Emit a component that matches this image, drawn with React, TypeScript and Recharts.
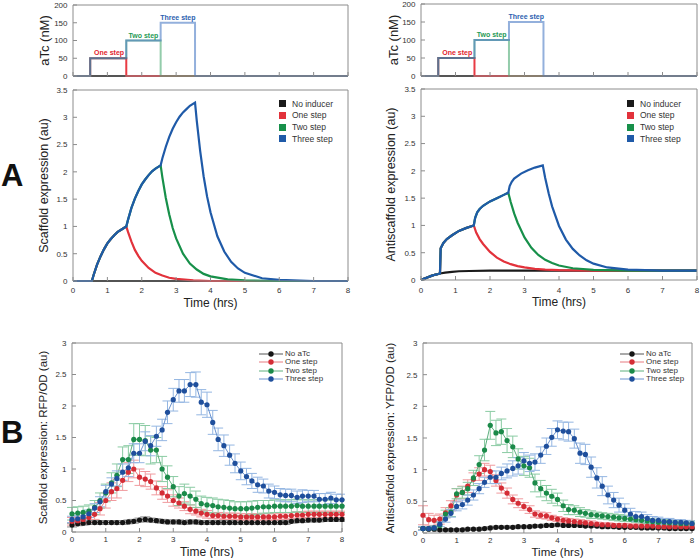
import React from 'react';
import { LineChart, Line, XAxis, YAxis, ErrorBar, Legend, ReferenceDot } from 'recharts';

const FONT = '"Liberation Sans", Arial, Helvetica, sans-serif';
const AXIS = '#8c8c8c';
const TXT = '#333333';
const TICK = { fontSize: 8, fill: TXT, fontFamily: FONT };
const X_TICKS = [0, 1, 2, 3, 4, 5, 6, 7, 8];

// ---------- Panel A (top): aTc input protocols, nM ----------
const atcNoneT = [0, 8];
const atcNoneV = [0, 0];
const atcOneT = [0, 0.5, 1.55, 8];
const atcOneV = [0, 50, 0, 0];
const atcTwoT = [0, 0.5, 1.55, 2.55, 8];
const atcTwoV = [0, 50, 100, 0, 0];
const atcThreeT = [0, 0.5, 1.55, 2.55, 3.55, 8];
const atcThreeV = [0, 50, 100, 150, 0, 0];
const atcTicks = [0, 50, 100, 150, 200];
const stepLabelText = ['One step', 'Two step', 'Three step'];
const stepLabelX = [1.05, 2.05, 3.05];
const stepLabelY = [65, 115, 165];
const stepLabelColor = ['#e2232f', '#1f9a55', '#2d5fb0'];

// ---------- Panel A (middle left): scaffold model ----------
const mlNoneT = [0, 8];
const mlNoneV = [0, 0];
const mlOneT = [0, 0.55, 0.6, 0.7, 0.8, 0.9, 1.0, 1.1, 1.2, 1.3, 1.4, 1.55, 1.6, 1.7, 1.8, 1.9, 2.0, 2.2, 2.4, 2.6, 2.8, 3.0, 3.5, 4, 8];
const mlOneV = [0, 0, 0.11, 0.3, 0.45, 0.58, 0.69, 0.77, 0.84, 0.9, 0.94, 1.0, 0.9, 0.72, 0.57, 0.46, 0.37, 0.24, 0.15, 0.1, 0.06, 0.04, 0.01, 0, 0];
const mlTwoT = [0, 0.55, 0.6, 0.7, 0.8, 0.9, 1.0, 1.1, 1.2, 1.3, 1.4, 1.55, 1.6, 1.7, 1.8, 1.9, 2.0, 2.1, 2.2, 2.3, 2.4, 2.55, 2.6, 2.7, 2.8, 2.9, 3.0, 3.2, 3.4, 3.6, 3.8, 4.0, 4.5, 5, 6, 8];
const mlTwoV = [0, 0, 0.11, 0.3, 0.45, 0.58, 0.69, 0.77, 0.84, 0.9, 0.94, 1.0, 1.12, 1.34, 1.51, 1.65, 1.77, 1.86, 1.94, 2.01, 2.06, 2.12, 1.9, 1.52, 1.22, 0.97, 0.78, 0.5, 0.32, 0.21, 0.13, 0.085, 0.03, 0.01, 0, 0];
const mlThreeT = [0, 0.55, 0.6, 0.7, 0.8, 0.9, 1.0, 1.1, 1.2, 1.3, 1.4, 1.55, 1.6, 1.7, 1.8, 1.9, 2.0, 2.1, 2.2, 2.3, 2.4, 2.55, 2.6, 2.7, 2.8, 2.9, 3.0, 3.1, 3.2, 3.3, 3.4, 3.55, 3.6, 3.7, 3.8, 3.9, 4.0, 4.2, 4.4, 4.6, 4.8, 5.0, 5.5, 6.0, 7, 8];
const mlThreeV = [0, 0, 0.11, 0.3, 0.45, 0.58, 0.69, 0.77, 0.84, 0.9, 0.94, 1.0, 1.12, 1.34, 1.51, 1.65, 1.77, 1.86, 1.94, 2.01, 2.06, 2.12, 2.25, 2.46, 2.64, 2.79, 2.91, 3.01, 3.09, 3.15, 3.21, 3.27, 2.94, 2.38, 1.92, 1.55, 1.26, 0.82, 0.54, 0.35, 0.23, 0.15, 0.05, 0.02, 0, 0];

// ---------- Panel A (middle right): antiscaffold model ----------
const mrNoneT = [0, 0.1, 0.2, 0.3, 0.4, 0.5, 0.55, 0.7, 0.9, 1.1, 1.4, 2, 8];
const mrNoneV = [0, 0.025, 0.05, 0.075, 0.095, 0.11, 0.12, 0.135, 0.15, 0.16, 0.165, 0.17, 0.17];
const mrOneT = [0, 0.1, 0.2, 0.3, 0.4, 0.5, 0.55, 0.57, 0.65, 0.75, 0.9, 1.1, 1.3, 1.53, 1.6, 1.7, 1.8, 2.0, 2.2, 2.4, 2.6, 2.8, 3.0, 3.3, 3.6, 4.0, 5, 8];
const mrOneV = [0, 0.025, 0.05, 0.075, 0.095, 0.11, 0.12, 0.58, 0.68, 0.75, 0.82, 0.9, 0.95, 1.0, 0.87, 0.75, 0.66, 0.515, 0.41, 0.34, 0.29, 0.255, 0.23, 0.205, 0.19, 0.18, 0.17, 0.17];
const mrTwoT = [0, 0.1, 0.2, 0.3, 0.4, 0.5, 0.55, 0.57, 0.65, 0.75, 0.9, 1.1, 1.3, 1.53, 1.57, 1.63, 1.7, 1.8, 2.0, 2.2, 2.4, 2.53, 2.6, 2.7, 2.8, 3.0, 3.2, 3.4, 3.6, 3.8, 4.0, 4.4, 5.0, 6, 8];
const mrTwoV = [0, 0.025, 0.05, 0.075, 0.095, 0.11, 0.12, 0.58, 0.68, 0.75, 0.82, 0.9, 0.95, 1.0, 1.14, 1.24, 1.3, 1.36, 1.44, 1.5, 1.56, 1.6, 1.43, 1.22, 1.05, 0.78, 0.59, 0.46, 0.37, 0.31, 0.265, 0.215, 0.185, 0.17, 0.17];
const mrThreeT = [0, 0.1, 0.2, 0.3, 0.4, 0.5, 0.55, 0.57, 0.65, 0.75, 0.9, 1.1, 1.3, 1.53, 1.57, 1.63, 1.7, 1.8, 2.0, 2.2, 2.4, 2.53, 2.57, 2.63, 2.7, 2.9, 3.1, 3.3, 3.53, 3.6, 3.7, 3.8, 4.0, 4.2, 4.4, 4.6, 4.8, 5.0, 5.4, 6.0, 7, 8];
const mrThreeV = [0, 0.025, 0.05, 0.075, 0.095, 0.11, 0.12, 0.58, 0.68, 0.75, 0.82, 0.9, 0.95, 1.0, 1.14, 1.24, 1.3, 1.36, 1.44, 1.5, 1.56, 1.6, 1.72, 1.8, 1.86, 1.95, 2.01, 2.06, 2.1, 1.87, 1.59, 1.35, 0.99, 0.74, 0.57, 0.45, 0.36, 0.3, 0.23, 0.19, 0.17, 0.17];
const modelTicks = [0, 0.5, 1, 1.5, 2, 2.5, 3, 3.5];
const modelNames = ['No inducer', 'One step', 'Two step', 'Three step'];
const modelColors = ['#1a1a1a', '#e2323b', '#17904a', '#1f5aa8'];

// ---------- Panel B: measurements (10 min sampling) ----------
const bTime = [0, 0.17, 0.33, 0.5, 0.67, 0.83, 1, 1.17, 1.33, 1.5, 1.67, 1.83, 2, 2.17, 2.33, 2.5, 2.67, 2.83, 3, 3.17, 3.33, 3.5, 3.67, 3.83, 4, 4.17, 4.33, 4.5, 4.67, 4.83, 5, 5.17, 5.33, 5.5, 5.67, 5.83, 6, 6.17, 6.33, 6.5, 6.67, 6.83, 7, 7.17, 7.33, 7.5, 7.67, 7.83, 8];

const blNoneV = [0.11, 0.13, 0.14, 0.15, 0.15, 0.15, 0.15, 0.15, 0.15, 0.15, 0.16, 0.17, 0.19, 0.2, 0.19, 0.18, 0.17, 0.16, 0.16, 0.16, 0.15, 0.16, 0.16, 0.15, 0.15, 0.15, 0.15, 0.15, 0.15, 0.15, 0.15, 0.15, 0.15, 0.15, 0.15, 0.15, 0.15, 0.15, 0.15, 0.17, 0.18, 0.18, 0.19, 0.19, 0.19, 0.2, 0.2, 0.2, 0.2];
const blNoneE = [0.03, 0.03, 0.03, 0.03, 0.03, 0.03, 0.03, 0.03, 0.03, 0.03, 0.03, 0.03, 0.03, 0.04, 0.03, 0.03, 0.03, 0.03, 0.03, 0.03, 0.03, 0.03, 0.03, 0.03, 0.03, 0.03, 0.03, 0.03, 0.03, 0.03, 0.03, 0.03, 0.03, 0.03, 0.03, 0.03, 0.03, 0.03, 0.03, 0.03, 0.03, 0.03, 0.03, 0.03, 0.03, 0.03, 0.03, 0.03, 0.03];
const blOneV = [0.17, 0.18, 0.2, 0.23, 0.28, 0.37, 0.5, 0.64, 0.69, 0.82, 0.95, 1.0, 0.87, 0.84, 0.8, 0.7, 0.62, 0.57, 0.5, 0.46, 0.41, 0.36, 0.33, 0.3, 0.28, 0.26, 0.26, 0.25, 0.25, 0.25, 0.24, 0.24, 0.24, 0.24, 0.24, 0.24, 0.24, 0.25, 0.25, 0.26, 0.27, 0.27, 0.28, 0.28, 0.28, 0.28, 0.28, 0.28, 0.28];
const blOneE = [0.06, 0.06, 0.06, 0.07, 0.08, 0.1, 0.12, 0.14, 0.15, 0.16, 0.15, 0.14, 0.13, 0.12, 0.12, 0.11, 0.1, 0.1, 0.09, 0.08, 0.07, 0.07, 0.06, 0.06, 0.06, 0.05, 0.05, 0.05, 0.05, 0.05, 0.05, 0.05, 0.05, 0.05, 0.05, 0.05, 0.05, 0.05, 0.05, 0.05, 0.05, 0.05, 0.05, 0.05, 0.05, 0.05, 0.05, 0.05, 0.05];
const blTwoV = [0.29, 0.3, 0.31, 0.33, 0.39, 0.5, 0.62, 0.78, 0.9, 1.15, 1.15, 1.47, 1.47, 1.45, 1.3, 1.3, 1.0, 0.87, 0.72, 0.57, 0.61, 0.57, 0.52, 0.45, 0.43, 0.42, 0.4, 0.39, 0.38, 0.37, 0.37, 0.37, 0.38, 0.39, 0.4, 0.4, 0.41, 0.41, 0.41, 0.41, 0.42, 0.41, 0.41, 0.41, 0.41, 0.41, 0.41, 0.41, 0.41];
const blTwoE = [0.1, 0.1, 0.1, 0.1, 0.11, 0.12, 0.14, 0.16, 0.18, 0.2, 0.22, 0.25, 0.25, 0.24, 0.22, 0.2, 0.2, 0.18, 0.16, 0.15, 0.15, 0.14, 0.13, 0.12, 0.12, 0.12, 0.12, 0.12, 0.12, 0.11, 0.11, 0.11, 0.11, 0.11, 0.1, 0.1, 0.1, 0.1, 0.1, 0.1, 0.1, 0.1, 0.1, 0.1, 0.1, 0.1, 0.1, 0.1, 0.1];
const blThreeV = [0.2, 0.21, 0.24, 0.29, 0.38, 0.48, 0.64, 0.76, 0.85, 0.95, 1.02, 1.25, 1.25, 1.44, 1.37, 1.52, 1.62, 1.9, 2.1, 2.24, 2.24, 2.34, 2.34, 2.06, 2.02, 1.74, 1.47, 1.37, 1.22, 1.09, 0.97, 0.88, 0.81, 0.75, 0.73, 0.65, 0.63, 0.59, 0.58, 0.58, 0.55, 0.57, 0.57, 0.57, 0.52, 0.52, 0.54, 0.51, 0.51];
const blThreeE = [0.05, 0.05, 0.05, 0.06, 0.07, 0.08, 0.1, 0.1, 0.12, 0.13, 0.14, 0.15, 0.15, 0.15, 0.16, 0.16, 0.17, 0.18, 0.18, 0.18, 0.18, 0.19, 0.2, 0.2, 0.2, 0.19, 0.18, 0.17, 0.16, 0.15, 0.14, 0.13, 0.12, 0.12, 0.11, 0.11, 0.1, 0.1, 0.1, 0.1, 0.1, 0.1, 0.09, 0.09, 0.09, 0.09, 0.09, 0.09, 0.09];

const brNoneV = [0.07, 0.06, 0.06, 0.05, 0.05, 0.05, 0.05, 0.05, 0.06, 0.06, 0.06, 0.07, 0.08, 0.09, 0.09, 0.09, 0.09, 0.1, 0.1, 0.1, 0.11, 0.11, 0.12, 0.12, 0.13, 0.12, 0.12, 0.12, 0.12, 0.11, 0.11, 0.11, 0.1, 0.1, 0.1, 0.09, 0.09, 0.09, 0.09, 0.08, 0.08, 0.08, 0.08, 0.08, 0.07, 0.07, 0.07, 0.07, 0.07];
const brNoneE = [0.02, 0.02, 0.02, 0.02, 0.02, 0.02, 0.02, 0.02, 0.02, 0.02, 0.02, 0.02, 0.02, 0.02, 0.02, 0.02, 0.02, 0.02, 0.02, 0.02, 0.02, 0.02, 0.02, 0.02, 0.02, 0.02, 0.02, 0.02, 0.02, 0.02, 0.02, 0.02, 0.02, 0.02, 0.02, 0.02, 0.02, 0.02, 0.02, 0.02, 0.02, 0.02, 0.02, 0.02, 0.02, 0.02, 0.02, 0.02, 0.02];
const brOneV = [0.28, 0.21, 0.2, 0.22, 0.32, 0.43, 0.6, 0.64, 0.74, 0.85, 0.93, 1.0, 0.97, 0.83, 0.71, 0.63, 0.53, 0.47, 0.42, 0.37, 0.3, 0.28, 0.27, 0.24, 0.22, 0.2, 0.19, 0.18, 0.17, 0.16, 0.15, 0.14, 0.13, 0.13, 0.12, 0.12, 0.12, 0.11, 0.11, 0.11, 0.11, 0.11, 0.1, 0.1, 0.1, 0.1, 0.1, 0.1, 0.1];
const brOneE = [0.15, 0.1, 0.08, 0.08, 0.08, 0.08, 0.1, 0.1, 0.1, 0.1, 0.1, 0.1, 0.1, 0.09, 0.08, 0.08, 0.07, 0.07, 0.06, 0.06, 0.05, 0.05, 0.05, 0.04, 0.04, 0.04, 0.04, 0.04, 0.04, 0.04, 0.04, 0.03, 0.03, 0.03, 0.03, 0.03, 0.03, 0.03, 0.03, 0.03, 0.03, 0.03, 0.03, 0.03, 0.03, 0.03, 0.03, 0.03, 0.03];
const brTwoV = [0.07, 0.07, 0.08, 0.12, 0.3, 0.33, 0.62, 0.64, 0.7, 0.87, 1.08, 1.31, 1.7, 1.58, 1.6, 1.46, 1.36, 1.17, 1.06, 1.03, 0.79, 0.7, 0.63, 0.58, 0.53, 0.43, 0.37, 0.36, 0.33, 0.31, 0.29, 0.28, 0.27, 0.26, 0.25, 0.24, 0.23, 0.22, 0.21, 0.2, 0.19, 0.18, 0.17, 0.17, 0.16, 0.16, 0.15, 0.15, 0.15];
const brTwoE = [0.03, 0.03, 0.03, 0.05, 0.06, 0.07, 0.08, 0.09, 0.1, 0.12, 0.14, 0.17, 0.22, 0.2, 0.2, 0.19, 0.17, 0.16, 0.15, 0.15, 0.14, 0.13, 0.12, 0.11, 0.1, 0.09, 0.08, 0.07, 0.07, 0.06, 0.06, 0.05, 0.05, 0.05, 0.05, 0.05, 0.05, 0.04, 0.04, 0.04, 0.04, 0.04, 0.04, 0.04, 0.04, 0.04, 0.04, 0.04, 0.04];
const brThreeV = [0.07, 0.07, 0.08, 0.14, 0.22, 0.31, 0.42, 0.45, 0.52, 0.6, 0.7, 0.8, 0.88, 0.88, 0.94, 0.98, 1.02, 1.06, 1.14, 1.1, 1.12, 1.23, 1.37, 1.51, 1.63, 1.61, 1.6, 1.49, 1.26, 1.24, 1.04, 0.87, 0.74, 0.6, 0.52, 0.44, 0.36, 0.3, 0.26, 0.26, 0.23, 0.2, 0.2, 0.18, 0.18, 0.17, 0.17, 0.16, 0.15];
const brThreeE = [0.03, 0.03, 0.03, 0.04, 0.05, 0.06, 0.07, 0.07, 0.08, 0.08, 0.08, 0.08, 0.1, 0.1, 0.1, 0.11, 0.12, 0.13, 0.13, 0.13, 0.13, 0.13, 0.13, 0.14, 0.14, 0.14, 0.15, 0.15, 0.16, 0.16, 0.16, 0.16, 0.15, 0.14, 0.12, 0.11, 0.1, 0.09, 0.08, 0.07, 0.06, 0.06, 0.05, 0.05, 0.05, 0.04, 0.04, 0.04, 0.04];
const measTicks = [0, 0.5, 1, 1.5, 2, 2.5, 3];
const measNames = ['No aTc', 'One step', 'Two step', 'Three step'];
const markColors = ['#151515', '#d42d36', '#1b8a49', '#1f4f9c'];
const lineColors = ['#555555', '#e77b80', '#5fb07f', '#6a93cf'];
const errColors = ['#8a8a8a', '#f09a9e', '#8acba3', '#94b6e2'];

// ---------- helpers ----------
type Row = { t: number; v: number; e: number };
const rows = (t: number[], v: number[], e?: number[]): Row[] => t.map((x, i) => ({ t: x, v: v[i], e: e ? e[i] : 0 }));
const blank = () => '';

const yTitle = (text: string, gap: number, size: number) => (p: any) => {
  const vb = p.viewBox || {};
  const x = vb.x + vb.width - gap;
  const y = vb.y + vb.height / 2;
  return (
    <text x={x} y={y} transform={`rotate(-90 ${x} ${y})`} textAnchor="middle" dominantBaseline="central" fontSize={size} fontWeight={400} fontFamily={FONT} fill="#222">
      {text}
    </text>
  );
};
const xTitle = (text: string, dy: number, size: number) => (p: any) => {
  const vb = p.viewBox || {};
  const x = vb.x + vb.width / 2;
  const y = vb.y + dy;
  return (
    <text x={x} y={y} textAnchor="middle" fontSize={size} fontWeight={400} fontFamily={FONT} fill="#222">
      {text}
    </text>
  );
};

type FrameOpts = {
  yTicks: number[];
  yMax: number;
  yw: number;
  xh: number;
  xLabels: boolean;
  xMargin: number;
  xTitleText?: string;
  xTitleDy?: number;
  xTitleSize?: number;
  yTitleText: string;
  yTitleGap: number;
  yTitleSize: number;
};
function frame(o: FrameOpts) {
  return [
    <XAxis key="xb" xAxisId="b" type="number" dataKey="t" domain={[0, 8]} ticks={X_TICKS} interval={0} orientation="bottom" height={o.xh} stroke={AXIS} tickSize={-4} tickMargin={o.xMargin} tick={TICK} tickFormatter={o.xLabels ? undefined : blank} label={o.xTitleText ? xTitle(o.xTitleText, o.xTitleDy || 24, o.xTitleSize || 12) : undefined} />,
    <XAxis key="xt" xAxisId="t" type="number" dataKey="t" domain={[0, 8]} ticks={X_TICKS} interval={0} orientation="top" height={1} stroke={AXIS} tickSize={-4} tickFormatter={blank} />,
    <YAxis key="yl" yAxisId="l" type="number" domain={[0, o.yMax]} ticks={o.yTicks} interval={0} width={o.yw} stroke={AXIS} tickSize={-4} tickMargin={9.5} tick={TICK} label={yTitle(o.yTitleText, o.yTitleGap, o.yTitleSize)} />,
    <YAxis key="yr" yAxisId="r" type="number" orientation="right" domain={[0, o.yMax]} ticks={o.yTicks} interval={0} width={1} stroke={AXIS} tickSize={-4} tickFormatter={blank} />,
  ];
}

const MARGIN = { top: 2, right: 2, left: 0, bottom: 0 };

const atcSeries = [
  { t: atcNoneT, v: atcNoneV, color: '#1e1e1e', op: 1 },
  { t: atcOneT, v: atcOneV, color: '#e8303a', op: 0.95 },
  { t: atcTwoT, v: atcTwoV, color: '#3aa366', op: 0.55 },
  { t: atcThreeT, v: atcThreeV, color: '#3a6fc0', op: 0.55 },
];

function AtcPanel({ left, top, width, height, gap }: { left: number; top: number; width: number; height: number; gap: number }) {
  return (
    <div style={{ position: 'absolute', left, top }}>
      <LineChart width={width} height={height} margin={MARGIN}>
        {frame({ yTicks: atcTicks, yMax: 200, yw: 73, xh: 6, xLabels: false, xMargin: 8, yTitleText: 'aTc (nM)', yTitleGap: gap, yTitleSize: 13 })}
        {atcSeries.map((s, i) => (
          <Line key={i} xAxisId="b" yAxisId="l" type="stepAfter" data={rows(s.t, s.v)} dataKey="v" stroke={s.color} strokeOpacity={s.op} strokeWidth={2} dot={false} activeDot={false} isAnimationActive={false} />
        ))}
        {stepLabelText.map((txt, i) => (
          <ReferenceDot key={txt} xAxisId="b" yAxisId="l" x={stepLabelX[i]} y={stepLabelY[i]} r={0} fill="none" stroke="none" label={{ value: txt, position: 'center', fill: stepLabelColor[i], fontSize: 7, fontWeight: 700, fontFamily: FONT }} />
        ))}
      </LineChart>
    </div>
  );
}

const ModelLegend = () => (
  <div style={{ fontFamily: FONT }}>
    {modelNames.map((n, i) => (
      <div key={n} style={{ display: 'flex', alignItems: 'center', height: 11.7 }}>
        <span style={{ display: 'inline-block', width: 7, height: 7, background: modelColors[i], marginRight: 6 }} />
        <span style={{ fontSize: 8.5, color: TXT, lineHeight: 1, whiteSpace: 'nowrap' }}>{n}</span>
      </div>
    ))}
  </div>
);

const MeasLegend = () => (
  <div style={{ fontFamily: FONT }}>
    {measNames.map((n, i) => (
      <div key={n} style={{ display: 'flex', alignItems: 'center', height: 8.33 }}>
        <svg width={24} height={8} style={{ display: 'block' }}>
          <line x1={0} y1={4} x2={24} y2={4} stroke={lineColors[i]} strokeWidth={1} />
          <circle cx={12} cy={4} r={2.7} fill={markColors[i]} />
        </svg>
        <span style={{ fontSize: 8, color: TXT, lineHeight: 1, marginLeft: 2, whiteSpace: 'nowrap' }}>{n}</span>
      </div>
    ))}
  </div>
);

type Model = { t: number[]; v: number[] };
function ModelPanel({ left, top, width, height, series, title, gap, xMargin, legendLeft, legendTop }: { left: number; top: number; width: number; height: number; series: Model[]; title: string; gap: number; xMargin: number; legendLeft: number; legendTop: number }) {
  return (
    <div style={{ position: 'absolute', left, top }}>
      <LineChart width={width} height={height} margin={MARGIN}>
        {frame({ yTicks: modelTicks, yMax: 3.5, yw: 73, xh: 30, xLabels: true, xMargin, xTitleText: 'Time (hrs)', xTitleDy: 25.5, yTitleText: title, yTitleGap: gap, yTitleSize: 12.5 })}
        {series.map((s, i) => (
          <Line key={i} xAxisId="b" yAxisId="l" type="linear" data={rows(s.t, s.v)} dataKey="v" stroke={modelColors[i]} strokeWidth={2.2} dot={false} activeDot={false} isAnimationActive={false} />
        ))}
        <Legend layout="vertical" align="center" verticalAlign="middle" wrapperStyle={{ left: legendLeft, top: legendTop, width: 80, height: 48 }} content={() => <ModelLegend />} />
      </LineChart>
    </div>
  );
}

type Meas = { v: number[]; e: number[] };
function MeasPanel({ left, top, width, height, yw, xh, series, title, gap, xMargin, titleDy, titleSize, legendLeft, legendTop }: { left: number; top: number; width: number; height: number; yw: number; xh: number; series: Meas[]; title: string; gap: number; xMargin: number; titleDy: number; titleSize: number; legendLeft: number; legendTop: number }) {
  return (
    <div style={{ position: 'absolute', left, top }}>
      <LineChart width={width} height={height} margin={MARGIN}>
        {frame({ yTicks: measTicks, yMax: 3, yw, xh, xLabels: true, xMargin, xTitleText: 'Time (hrs)', xTitleDy: titleDy, xTitleSize: titleSize, yTitleText: title, yTitleGap: gap, yTitleSize: 11.5 })}
        {series.map((s, i) => (
          <Line key={i} xAxisId="b" yAxisId="l" type="linear" data={rows(bTime, s.v, s.e)} dataKey="v" stroke={lineColors[i]} strokeWidth={1} dot={{ r: 2.6, fill: markColors[i], stroke: markColors[i], strokeWidth: 0 }} activeDot={false} isAnimationActive={false}>
            <ErrorBar dataKey="e" direction="y" width={5} stroke={errColors[i]} strokeWidth={1} isAnimationActive={false} />
          </Line>
        ))}
        <Legend layout="vertical" align="center" verticalAlign="middle" wrapperStyle={{ left: legendLeft, top: legendTop, width: 80, height: 34 }} content={() => <MeasLegend />} />
      </LineChart>
    </div>
  );
}

export default function App() {
  const mlSeries: Model[] = [
    { t: mlNoneT, v: mlNoneV },
    { t: mlOneT, v: mlOneV },
    { t: mlTwoT, v: mlTwoV },
    { t: mlThreeT, v: mlThreeV },
  ];
  const mrSeries: Model[] = [
    { t: mrNoneT, v: mrNoneV },
    { t: mrOneT, v: mrOneV },
    { t: mrTwoT, v: mrTwoV },
    { t: mrThreeT, v: mrThreeV },
  ];
  const blSeries: Meas[] = [
    { v: blNoneV, e: blNoneE },
    { v: blOneV, e: blOneE },
    { v: blTwoV, e: blTwoE },
    { v: blThreeV, e: blThreeE },
  ];
  const brSeries: Meas[] = [
    { v: brNoneV, e: brNoneE },
    { v: brOneV, e: brOneE },
    { v: brTwoV, e: brTwoE },
    { v: brThreeV, e: brThreeE },
  ];
  return (
    <div style={{ position: 'absolute', left: 0, top: 0, width: 700, height: 558, background: '#ffffff', overflow: 'hidden', fontFamily: FONT }}>
      <AtcPanel left={0} top={2} width={351} height={80} gap={29} />
      <AtcPanel left={348} top={1} width={352} height={81} gap={28} />
      <ModelPanel left={0} top={87} width={351} height={224} series={mlSeries} title="Scaffold expression (au)" gap={29} xMargin={10} legendLeft={279} legendTop={11} />
      <ModelPanel left={348} top={86} width={352} height={224} series={mrSeries} title="Antiscaffold expression (au)" gap={30} xMargin={11} legendLeft={279} legendTop={12} />
      <MeasPanel left={0} top={340} width={345} height={218} yw={72} xh={26} series={blSeries} title="Scaffold expression: RFP/OD (au)" gap={29} xMargin={8} titleDy={24} titleSize={12} legendLeft={259} legendTop={10} />
      <MeasPanel left={350} top={340} width={345} height={218} yw={73} xh={25} series={brSeries} title="Antiscaffold expression: YFP/OD (au)" gap={33} xMargin={8} titleDy={22.5} titleSize={11.5} legendLeft={270} legendTop={10} />
      <svg width={700} height={558} style={{ position: 'absolute', left: 0, top: 0, pointerEvents: 'none' }}>
        <text x={1} y={186} fontSize={31} fontWeight={700} fontFamily={FONT} fill="#111">A</text>
        <text x={1} y={443} fontSize={31} fontWeight={700} fontFamily={FONT} fill="#111">B</text>
      </svg>
    </div>
  );
}
